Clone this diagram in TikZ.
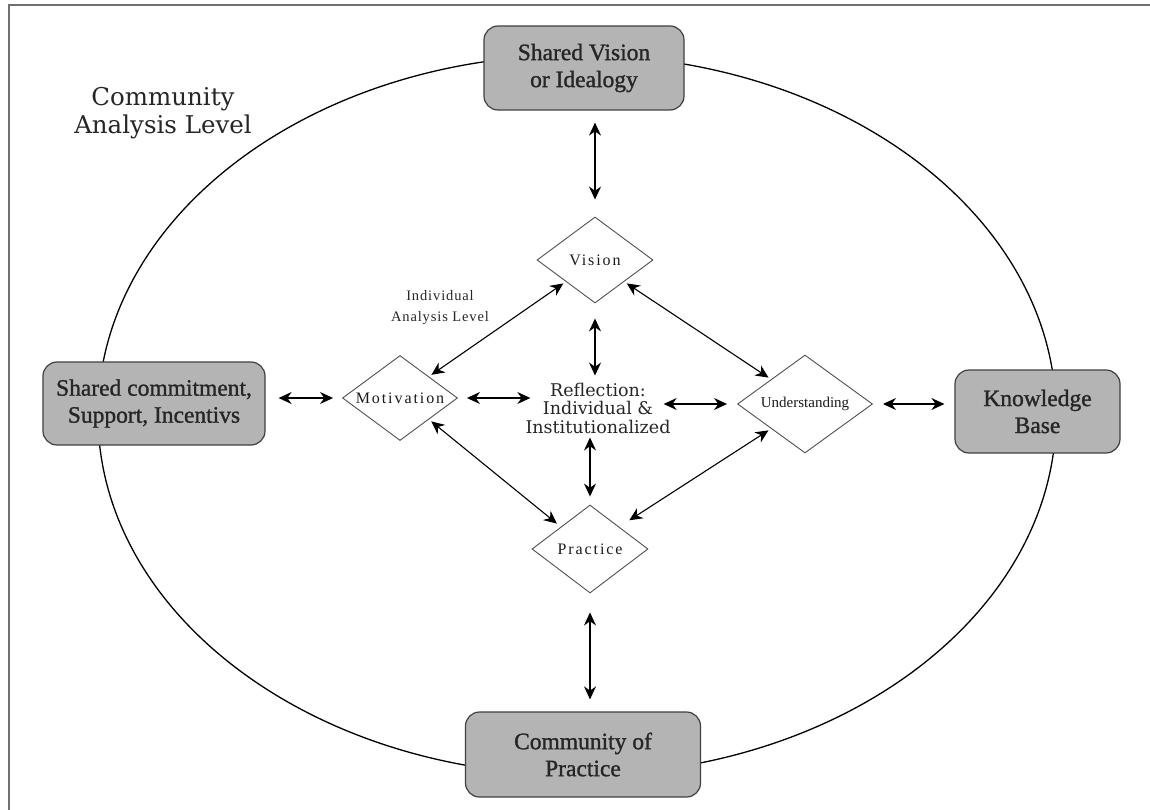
\documentclass[tikz,border=0pt]{standalone}
\usepackage{fontspec}
\setmainfont{Liberation Serif}
\newfontfamily\dvs{DejaVu Serif}
\newfontfamily\boxf{Liberation Serif}[FakeBold=1.2]
\newfontfamily\lsp{Liberation Serif}[LetterSpace=12]
\newfontfamily\lspb{Liberation Serif}[LetterSpace=6]
\usetikzlibrary{shapes.geometric,arrows.meta}
\definecolor{boxfill}{HTML}{B4B4B4}
\definecolor{boxline}{HTML}{404040}
\definecolor{framec}{HTML}{707070}
\definecolor{dline}{HTML}{505050}
\tikzset{
  box/.style={draw=boxline, line width=1.2pt, fill=boxfill, rounded corners=14pt, align=center,
    font=\boxf\fontsize{23.5}{27}\selectfont, text=black!85, inner sep=0pt},
  dia/.style={diamond, draw=dline, line width=0.9pt, inner sep=0pt, minimum width=#1},
  dlabel/.style={font=\lsp\fontsize{16}{18}\selectfont, text=black!90, inner sep=0pt},
  arr/.style={{Stealth[length=13pt,width=12pt]}-{Stealth[length=13pt,width=12pt]}, line width=1.4pt},
  darr/.style={{Stealth[length=13pt,width=12pt]}-{Stealth[length=13pt,width=12pt]}, line width=1.1pt},
}
\begin{document}
\begin{tikzpicture}[x=1pt,y=-1pt]
\useasboundingbox (0,0) rectangle (1150,810);
\fill[white] (0,0) rectangle (1150,810);
\draw[framec, line width=2.5pt] (9,810) -- (9,5) -- (1150,5);
% outer ellipse
\node[ellipse, draw, line width=1.3pt, minimum width=958pt, minimum height=720pt, inner sep=0pt] (cal) at (577,415) {};
\node[font=\dvs\fontsize{24.5}{28}\selectfont, align=center, text=black!85] (caltxt) at (163,113) {Community\\Analysis Level};
% boxes
\node[box, minimum width=200pt, minimum height=84pt] (sv) at (584,68) {Shared Vision\\or Idealogy};
\node[box, minimum width=222pt, minimum height=83pt] (sc) at (154,403.5) {Shared commitment,\\Support, Incentivs};
\node[box, minimum width=165pt, minimum height=83pt] (kb) at (1037.5,411.5) {Knowledge\\Base};
\node[box, minimum width=235pt, minimum height=85pt] (cp) at (583,754.5) {Community of\\Practice};
% diamonds
\node[dia=116pt, minimum height=86pt, label={[dlabel]center:Vision}] (vis) at (595,260) {};
\node[dia=115pt, minimum height=85pt, label={[dlabel]center:Motivation}] (mot) at (400,398) {};
\node[dia=135pt, minimum height=98pt, label={[dlabel, font=\fontsize{15}{17}\selectfont]center:Understanding}] (und) at (805,404) {};
\node[dia=116pt, minimum height=88pt, label={[dlabel]center:Practice}] (prac) at (590,549) {};
% reflection
\node[font=\dvs\fontsize{17.5}{18.5}\selectfont, align=center, text=black!85, inner sep=0pt] (refl) at (598,408) {Reflection:\\Individual \&\\Institutionalized};
\node[font=\lspb\fontsize{14.5}{21}\selectfont, align=center, text=black!85] (ial) at (440,308) {Individual\\Analysis Level};
% arrows
\draw[arr, shorten <=12pt, shorten >=17pt] (sv.south -| vis.north) -- (vis.north);
\draw[arr, shorten <=15pt, shorten >=7pt] (vis.south) -- (refl.north -| vis.south);
\draw[arr, shorten <=4pt, shorten >=8pt] (refl.south -| prac.north) -- (prac.north);
\draw[arr, shorten <=19pt, shorten >=12pt] (prac.south) -- (prac.south |- cp.north);
\draw[arr, shorten <=13pt, shorten >=9pt] (sc.east |- mot.west) -- (mot.west);
\draw[arr, shorten <=9pt] (mot.east) -- ([xshift=5pt]refl.west |- mot.east);
\draw[arr, shorten >=10pt] ([xshift=-7pt]refl.east |- und.west) -- (und.west);
\draw[arr, shorten <=10pt, shorten >=10pt] (und.east) -- (und.east -| kb.west);
\draw[darr, shorten <=3pt, shorten >=3pt] (vis.south west) -- (mot.north east);
\draw[darr, shorten <=3pt, shorten >=3pt] (vis.south east) -- (und.north west);
\draw[darr, shorten <=3pt, shorten >=5pt] (mot.south east) -- (prac.north west);
\draw[darr, shorten <=3pt, shorten >=12pt] (und.south west) -- (prac.north east);
\end{tikzpicture}
\end{document}
